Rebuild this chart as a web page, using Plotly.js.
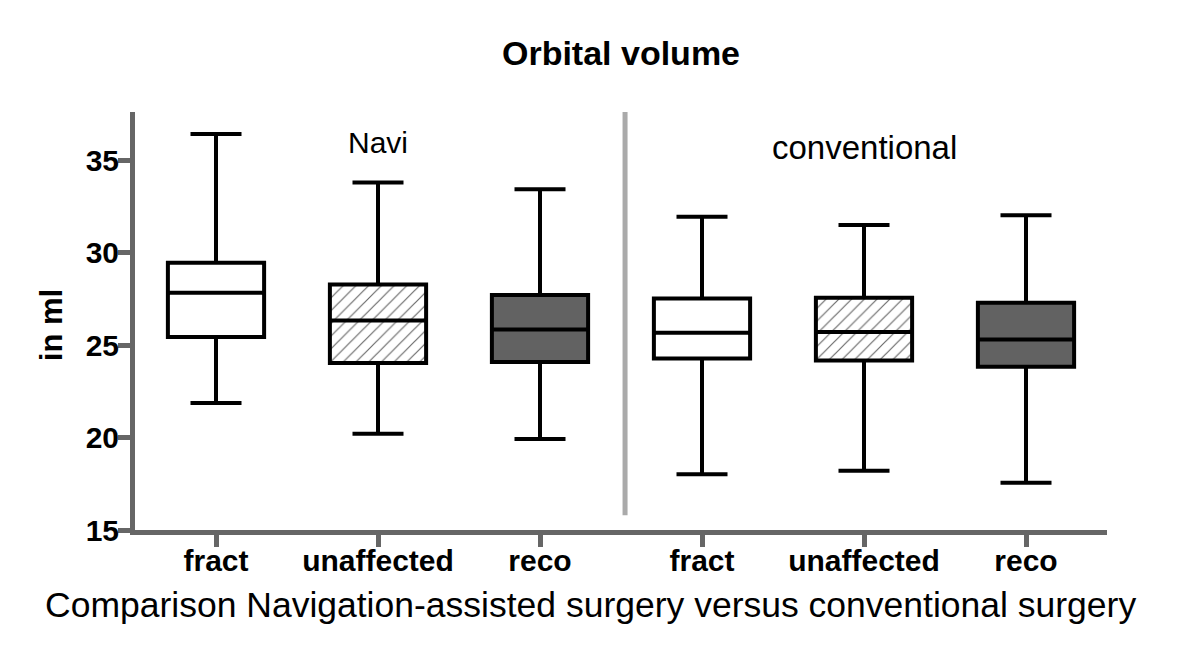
<!DOCTYPE html>
<html>
<head>
<meta charset="utf-8">
<script src="https://cdn.plot.ly/plotly-3.0.1.min.js"></script>
<style>
  html, body { margin: 0; padding: 0; background: #ffffff; }
  #chart { width: 1200px; height: 662px; }
</style>
</head>
<body>
<div id="chart"></div>
<script>
// ---- Data ----
const groupNames = ['Navi', 'conventional'];
const categories = ['fract', 'unaffected', 'reco', 'fract', 'unaffected', 'reco'];
const q1Values     = [25.44, 24.03, 24.09, 24.27, 24.16, 23.82];
const medianValues = [27.83, 26.33, 25.84, 25.66, 25.71, 25.30];
const q3Values     = [29.45, 28.28, 27.70, 27.52, 27.56, 27.29];
const lowerWhisker = [21.87, 20.20, 19.92, 18.02, 18.20, 17.56];
const upperWhisker = [36.41, 33.79, 33.43, 31.93, 31.49, 32.02];
const yTickValues  = [15, 20, 25, 30, 35];

// ---- Styling ----
const FONT = '"Liberation Sans", Arial, Helvetica, sans-serif';
const AXIS_GRAY = '#666666';
const BOX_WIDTH = 0.594;
const fillStyles = ['open', 'hatched', 'filled']; // per category within a group

const positions = categories.map((c, i) => i + 1);

const traces = [];

// hatched backgrounds (bars beneath the boxes)
positions.forEach((pos, i) => {
  const style = fillStyles[i % 3];
  if (style === 'hatched') {
    traces.push({
      type: 'bar',
      x: [pos],
      base: [q1Values[i]],
      y: [q3Values[i] - q1Values[i]],
      width: BOX_WIDTH,
      marker: {
        color: '#ffffff',
        line: { width: 0 },
        pattern: { shape: '/', fgcolor: '#6a6a6a', bgcolor: '#ffffff', size: 9, solidity: 0.13 }
      },
      hoverinfo: 'skip',
      showlegend: false
    });
  }
});

positions.forEach((pos, i) => {
  const style = fillStyles[i % 3];
  let fill = '#ffffff';
  if (style === 'hatched') fill = 'rgba(0,0,0,0)';
  if (style === 'filled') fill = '#626262';
  traces.push({
    type: 'box',
    x: [pos],
    q1: [q1Values[i]],
    median: [medianValues[i]],
    q3: [q3Values[i]],
    lowerfence: [lowerWhisker[i]],
    upperfence: [upperWhisker[i]],
    width: BOX_WIDTH,
    whiskerwidth: 0.53,
    boxpoints: false,
    fillcolor: fill,
    line: { color: '#000000', width: 4 },
    name: groupNames[Math.floor(i / 3)] + ' ' + categories[i],
    showlegend: false
  });
});

// separator between groups (between 3rd and 4th categories)
const sepX = 3.525;

const groupCenters = [2, 5];

const layout = {
  width: 1200,
  height: 662,
  margin: { l: 135, r: 93, t: 112, b: 132 },
  paper_bgcolor: '#ffffff',
  plot_bgcolor: '#ffffff',
  showlegend: false,
  barmode: 'overlay',
  font: { family: FONT, color: '#000000' },
  title: {
    text: '<b>Orbital volume</b>',
    font: { family: FONT, size: 34, color: '#000000' },
    xref: 'paper', x: 0.5, xanchor: 'center',
    yref: 'container', y: 1 - 53 / 662, yanchor: 'middle'
  },
  xaxis: {
    range: [0.5, 6.5],
    tickmode: 'array',
    tickvals: positions,
    ticktext: categories.map(c => '<b>' + c + '</b>'),
    tickfont: { family: FONT, size: 30, color: '#000000' },
    ticklabelstandoff: -12,
    showline: true, linecolor: AXIS_GRAY, linewidth: 5,
    ticks: 'outside', ticklen: 12, tickwidth: 5, tickcolor: AXIS_GRAY,
    showgrid: false, zeroline: false, fixedrange: true
  },
  yaxis: {
    range: [15, 37.6],
    tickmode: 'array',
    tickvals: yTickValues,
    ticktext: yTickValues.map(v => '<b>' + v + '</b>'),
    tickfont: { family: FONT, size: 30, color: '#000000' },
    ticklabelstandoff: -7,
    showline: true, linecolor: AXIS_GRAY, linewidth: 5,
    ticks: 'outside', ticklen: 12, tickwidth: 5, tickcolor: AXIS_GRAY,
    showgrid: false, zeroline: false, fixedrange: true
  },
  shapes: [{
    type: 'line', xref: 'x', yref: 'y',
    x0: sepX, x1: sepX, y0: 15.8, y1: 37.6,
    line: { color: '#aaaaaa', width: 5 }
  }],
  annotations: [
    {
      text: groupNames[0], xref: 'x', x: groupCenters[0], yref: 'paper', y: 0.928,
      xanchor: 'center', yanchor: 'middle', showarrow: false,
      font: { family: FONT, size: 30, color: '#000000' }
    },
    {
      text: groupNames[1], xref: 'x', x: groupCenters[1], yref: 'paper', y: 0.914,
      xanchor: 'center', yanchor: 'middle', showarrow: false,
      font: { family: FONT, size: 33, color: '#000000' }
    },
    {
      text: 'Comparison Navigation-assisted surgery versus conventional surgery',
      xref: 'paper', x: (590 - 135) / 972, yref: 'paper', y: -0.179,
      xanchor: 'center', yanchor: 'middle', showarrow: false,
      font: { family: FONT, size: 35.5, color: '#000000' }
    },
    {
      text: '<b>in ml</b>',
      xref: 'paper', x: (51 - 135) / 972, yref: 'paper', y: 0.49,
      xanchor: 'center', yanchor: 'middle', showarrow: false, textangle: -90,
      font: { family: FONT, size: 31, color: '#000000' }
    }
  ]
};

Plotly.newPlot('chart', traces, layout, { displayModeBar: false, staticPlot: true });
</script>
</body>
</html>
